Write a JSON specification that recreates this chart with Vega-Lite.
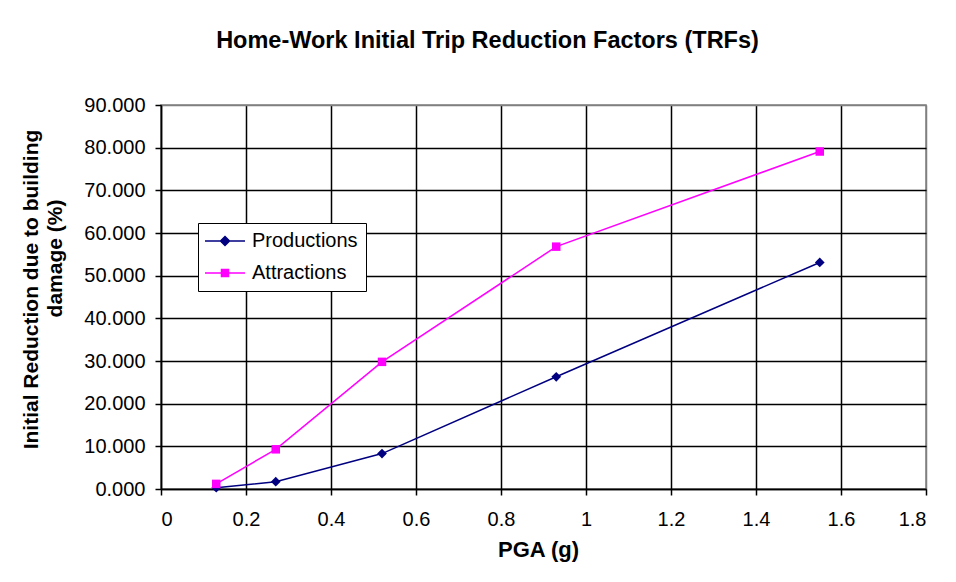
{
  "$schema": "https://vega.github.io/schema/vega-lite/v6.json",
  "autosize": "none",
  "width": 765,
  "height": 384,
  "padding": {"left": 161, "top": 105, "right": 30, "bottom": 93},
  "background": "white",
  "title": {
    "text": "Home-Work Initial Trip Reduction Factors (TRFs)",
    "font": "Liberation Sans",
    "fontSize": 23.5,
    "fontWeight": "bold",
    "color": "black",
    "anchor": "middle",
    "frame": "group",
    "dx": -56,
    "offset": 24,
    "baseline": "alphabetic"
  },
  "data": {
    "values": [
      {"series": "Productions", "pga": 0.13, "reduction": 0.3},
      {"series": "Productions", "pga": 0.27, "reduction": 1.7},
      {"series": "Productions", "pga": 0.52, "reduction": 8.3},
      {"series": "Productions", "pga": 0.93, "reduction": 26.3},
      {"series": "Productions", "pga": 1.55, "reduction": 53.1},
      {"series": "Attractions", "pga": 0.13, "reduction": 1.2},
      {"series": "Attractions", "pga": 0.27, "reduction": 9.3},
      {"series": "Attractions", "pga": 0.52, "reduction": 29.8},
      {"series": "Attractions", "pga": 0.93, "reduction": 56.8},
      {"series": "Attractions", "pga": 1.55, "reduction": 79.1}
    ]
  },
  "encoding": {
    "x": {
      "field": "pga",
      "type": "quantitative",
      "scale": {"domain": [0, 1.8], "nice": false, "zero": false},
      "axis": {
        "title": "PGA (g)",
        "values": [0, 0.2, 0.4, 0.6, 0.8, 1, 1.2, 1.4, 1.6, 1.8],
        "format": "~g",
        "labelPadding": 14,
        "titleFontSize": 22,
        "titleX": 377,
        "titleY": 67,
        "titleBaseline": "alphabetic",
        "titleAlign": "center",
        "gridColor": {"condition": {"test": "datum.value === 1.8", "value": "#808080"}, "value": "black"}
      }
    }
  },
  "layer": [
    {
      "mark": {"type": "line", "strokeWidth": 1.5},
      "encoding": {
        "y": {
          "field": "reduction",
          "type": "quantitative",
          "scale": {"domain": [0, 90], "nice": false},
          "axis": {
            "orient": "left",
            "title": "Initial Reduction due to building",
            "values": [0, 10, 20, 30, 40, 50, 60, 70, 80, 90],
            "format": ".3f",
            "labelPadding": 10,
            "titleFontSize": 21,
            "titleAngle": -90,
            "titleX": -124,
            "titleY": 184,
            "titleBaseline": "alphabetic",
            "titleAlign": "center",
            "gridColor": {"condition": {"test": "datum.value === 90", "value": "#808080"}, "value": "black"}
          }
        },
        "color": {
          "field": "series",
          "type": "nominal",
          "scale": {"domain": ["Productions", "Attractions"], "range": ["#000080", "#ff00ff"]},
          "legend": {
            "orient": "none",
            "legendX": 37,
            "legendY": 118,
            "title": null,
            "padding": 8,
            "rowPadding": 12,
            "symbolOffset": 9,
            "labelOffset": 17,
            "symbolSize": 100,
            "symbolStrokeWidth": 1.5,
            "labelFont": "Liberation Sans",
            "labelFontSize": 20,
            "labelColor": "black",
            "strokeColor": "black",
            "fillColor": "white",
            "cornerRadius": 0,
            "encode": {
              "symbols": {
                "update": {
                  "shape": {"signal": "datum.value === 'Productions' ? 'M-4,0H4M0,-0.9L0.9,0L0,0.9L-0.9,0Z' : 'M-4,0H4M-0.7,-0.7H0.7V0.7H-0.7Z'"},
                  "fill": {"signal": "datum.value === 'Productions' ? '#000080' : '#ff00ff'"},
                  "stroke": {"signal": "datum.value === 'Productions' ? '#000080' : '#ff00ff'"},
                  "opacity": {"value": 1}
                }
              }
            }
          }
        }
      }
    },
    {
      "transform": [{"filter": "datum.series === 'Productions'"}],
      "mark": {"type": "point", "shape": "diamond", "filled": true, "size": 95, "color": "#000080", "opacity": 1},
      "encoding": {
        "y": {
          "field": "reduction",
          "type": "quantitative",
          "axis": {
            "orient": "left",
            "title": "damage (%)",
            "labels": false,
            "ticks": false,
            "domain": false,
            "grid": false,
            "titleFontSize": 21,
            "titleAngle": -90,
            "titleX": -100,
            "titleY": 153,
            "titleBaseline": "alphabetic",
            "titleAlign": "center"
          }
        }
      }
    },
    {
      "transform": [{"filter": "datum.series === 'Attractions'"}],
      "mark": {"type": "point", "shape": "square", "filled": true, "size": 72, "color": "#ff00ff", "opacity": 1},
      "encoding": {
        "y": {"field": "reduction", "type": "quantitative", "axis": null}
      }
    }
  ],
  "resolve": {"axis": {"y": "independent"}},
  "config": {
    "view": {"stroke": "#808080", "strokeWidth": 1.5},
    "axis": {
      "labelFont": "Liberation Sans",
      "labelFontSize": 20,
      "labelColor": "black",
      "titleFont": "Liberation Sans",
      "titleFontSize": 20,
      "titleFontWeight": "bold",
      "titleColor": "black",
      "domainColor": "black",
      "domainWidth": 1.5,
      "tickColor": "black",
      "tickSize": 6,
      "tickWidth": 1.5,
      "gridOpacity": 1,
      "gridWidth": 1.5
    }
  }
}
